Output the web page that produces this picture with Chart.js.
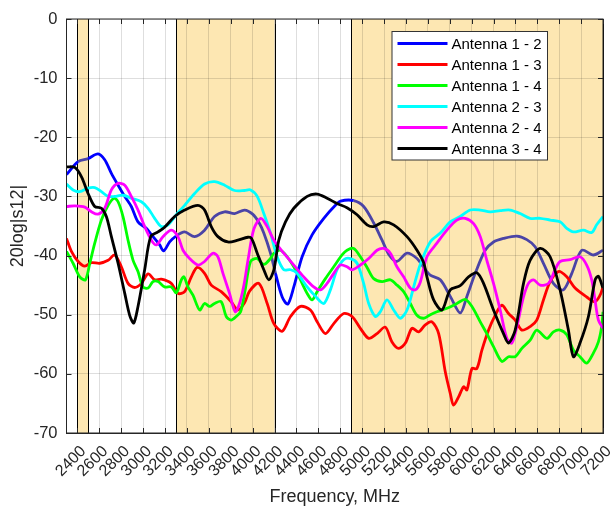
<!DOCTYPE html>
<html>
<head>
<meta charset="utf-8">
<script src="https://cdn.jsdelivr.net/npm/chart.js@4"></script>
<style>
  html, body { margin: 0; padding: 0; background: #fff; }
  #wrap { width: 612px; height: 506px; position: relative; }
</style>
</head>
<body>
<div id="wrap"><canvas id="c" width="612" height="506"></canvas></div>
<script>
// ---------- data ----------
const xTickValues = [2400,2600,2800,3000,3200,3400,3600,3800,4000,4200,4400,4600,4800,5000,5200,5400,5600,5800,6000,6200,6400,6600,6800,7000,7200];
const yTickValues = [0,-10,-20,-30,-40,-50,-60,-70];

const shadeStart = [2400, 3300, 4900];
const shadeEnd   = [2500, 4200, 7200];

const seriesNames = ['Antenna 1 - 2','Antenna 1 - 3','Antenna 1 - 4','Antenna 2 - 3','Antenna 2 - 4','Antenna 3 - 4'];

const f12 = [2300,2406,2497,2588,2649,2710,2771,2832,2892,2953,3029,3090,3151,3187,3242,3300,3379,3470,3561,3652,3744,3835,3926,4000,4060,4102,4163,4209,4270,4321,4376,4452,4543,4650,4756,4802,4923,5014,5106,5182,5250,5318,5410,5501,5562,5622,5714,5805,5896,5957,6033,6124,6200,6291,6413,6504,6580,6656,6747,6838,6915,7006,7112,7200];
const v12 = [-26.3,-24.1,-23.6,-22.8,-23.8,-26.1,-28.1,-30.0,-31.7,-34.3,-35.4,-36.8,-38.2,-39.2,-37.7,-36.7,-36.0,-36.8,-35.7,-33.4,-32.6,-32.9,-32.3,-33.0,-34.5,-36.2,-39.6,-43.0,-47.0,-48.2,-45.3,-40.2,-36.5,-33.7,-31.5,-30.8,-30.7,-31.7,-34.5,-37.4,-40.0,-41.0,-39.6,-40.5,-42.0,-43.3,-44.1,-46.9,-49.7,-46.9,-43.0,-39.1,-37.7,-37.1,-36.7,-37.3,-38.5,-41.3,-44.7,-45.8,-43.0,-39.1,-39.9,-39.1];

const f13 = [2300,2345,2406,2467,2528,2604,2680,2740,2801,2862,2923,2984,3045,3105,3166,3257,3318,3379,3440,3494,3561,3622,3713,3804,3865,3926,3972,4057,4133,4194,4270,4346,4437,4528,4589,4665,4741,4832,4908,4984,5060,5136,5212,5273,5334,5395,5455,5516,5577,5638,5699,5759,5805,5835,5881,5927,5957,6003,6048,6094,6155,6215,6276,6337,6398,6459,6535,6595,6656,6717,6793,6869,6945,7051,7127,7173,7200];
const v13 = [-37.1,-39.3,-41.0,-41.8,-41.2,-41.3,-40.8,-39.9,-41.9,-44.7,-45.4,-44.7,-43.1,-44.1,-44.0,-44.7,-46.4,-46.1,-43.6,-42.0,-43.0,-45.0,-46.1,-47.8,-49.2,-48.0,-46.0,-44.7,-48.1,-51.5,-52.8,-50.3,-48.6,-49.2,-51.2,-53.2,-51.5,-49.8,-50.3,-52.3,-54.0,-53.2,-52.1,-54.6,-55.7,-54.8,-52.3,-52.9,-51.7,-51.2,-53.2,-59.6,-63.3,-65.3,-63.9,-62.2,-62.7,-59.1,-59.1,-56.0,-52.6,-50.1,-48.4,-49.8,-50.9,-52.6,-52.0,-50.9,-47.5,-44.4,-42.7,-43.6,-45.5,-47.0,-47.8,-46.7,-45.3];

const f14 = [2300,2360,2421,2473,2513,2558,2619,2680,2734,2771,2816,2862,2908,2953,2999,3045,3090,3136,3196,3257,3303,3349,3373,3409,3455,3516,3561,3607,3652,3713,3759,3804,3850,3890,3930,3981,4042,4102,4163,4194,4254,4315,4391,4452,4498,4543,4589,4665,4741,4817,4862,4923,4984,5045,5106,5182,5258,5319,5379,5440,5501,5562,5623,5683,5775,5866,5942,6003,6079,6139,6200,6276,6337,6398,6459,6535,6595,6687,6747,6808,6869,6930,6990,7051,7112,7158,7188,7200];
const v14 = [-39.3,-41.3,-43.6,-44.1,-41.3,-37.9,-34.0,-31.5,-30.3,-30.9,-33.4,-37.4,-40.8,-42.7,-45.3,-45.5,-44.4,-44.4,-45.3,-45.3,-46.3,-44.1,-43.6,-45.3,-46.7,-49.2,-48.1,-48.6,-48.1,-47.8,-50.3,-50.9,-50.3,-49.5,-46.0,-41.0,-40.5,-41.5,-40.5,-39.6,-39.1,-40.2,-42.4,-44.7,-46.4,-47.5,-46.1,-43.9,-41.9,-39.9,-39.1,-38.8,-40.2,-42.0,-43.9,-44.4,-44.1,-45.0,-46.1,-48.1,-50.1,-50.6,-50.0,-49.5,-48.9,-48.1,-47.4,-48.6,-51.2,-53.2,-55.4,-57.9,-57.1,-57.1,-55.7,-54.3,-52.6,-54.0,-52.9,-52.6,-53.4,-56.0,-57.1,-58.2,-56.5,-54.6,-52.0,-49.5];

const f23 = [2300,2360,2421,2497,2558,2619,2680,2740,2816,2892,2984,3045,3105,3166,3227,3303,3379,3470,3561,3652,3744,3835,3926,3981,4042,4102,4163,4224,4285,4346,4407,4498,4574,4650,4710,4771,4832,4893,4954,5014,5060,5121,5166,5227,5288,5349,5410,5471,5531,5622,5714,5805,5896,5987,6078,6170,6261,6352,6443,6534,6626,6717,6808,6869,6930,7021,7097,7142,7200];
const v23 = [-27.9,-28.9,-29.2,-28.6,-28.5,-29.2,-30.0,-30.0,-29.8,-30.3,-30.9,-32.0,-33.7,-35.1,-34.8,-33.1,-31.5,-29.5,-27.9,-27.5,-28.1,-29.0,-29.0,-28.9,-30.0,-32.9,-36.2,-40.2,-42.4,-42.4,-43.0,-45.3,-46.9,-48.1,-45.8,-42.4,-40.7,-40.5,-41.3,-44.7,-48.1,-50.3,-49.5,-47.5,-49.2,-50.6,-49.2,-45.3,-41.5,-37.7,-36.2,-34.3,-33.4,-32.3,-32.3,-32.6,-32.4,-32.3,-32.9,-33.7,-33.7,-34.0,-34.3,-35.4,-36.0,-35.7,-36.1,-34.8,-33.4];

const f24 = [2300,2376,2467,2528,2588,2649,2710,2771,2832,2892,2953,3014,3075,3121,3181,3257,3318,3364,3424,3500,3561,3637,3683,3729,3789,3841,3880,3920,3960,4011,4075,4133,4194,4285,4376,4467,4558,4619,4680,4741,4802,4862,4908,4984,5060,5136,5197,5258,5318,5379,5440,5486,5531,5592,5683,5774,5865,5942,6018,6079,6139,6200,6261,6322,6367,6413,6474,6519,6565,6626,6702,6762,6808,6899,6990,7051,7097,7127,7158,7200];
const v24 = [-31.7,-31.6,-31.8,-32.6,-33.0,-32.0,-28.9,-27.8,-28.1,-30.0,-32.3,-35.1,-37.4,-38.2,-36.8,-35.7,-36.8,-39.1,-40.5,-41.6,-41.0,-39.6,-40.2,-43.0,-46.4,-49.5,-48.1,-45.0,-40.5,-35.5,-33.7,-35.1,-37.4,-39.6,-41.6,-43.6,-45.3,-45.8,-44.7,-43.0,-41.6,-41.9,-42.4,-41.6,-40.5,-39.1,-38.8,-39.6,-41.9,-43.6,-45.5,-45.8,-44.5,-40.2,-37.9,-35.7,-34.0,-33.7,-34.6,-36.8,-40.8,-44.7,-49.2,-54.0,-54.8,-52.0,-47.0,-44.7,-44.1,-45.0,-44.7,-42.4,-41.0,-40.7,-40.2,-41.6,-44.1,-47.5,-50.9,-52.3];

const f34 = [2300,2376,2437,2497,2558,2619,2664,2710,2771,2832,2877,2914,2953,3014,3069,3136,3196,3288,3379,3500,3561,3622,3683,3774,3865,3957,3990,4042,4102,4148,4194,4239,4300,4376,4498,4589,4680,4771,4862,4954,5045,5106,5197,5288,5410,5501,5562,5592,5653,5729,5805,5896,5972,6048,6109,6200,6291,6337,6398,6474,6534,6626,6717,6808,6884,6930,6990,7067,7128,7158,7200];
const v34 = [-25.0,-25.1,-26.7,-29.5,-31.7,-32.0,-33.4,-36.8,-41.3,-46.4,-50.1,-51.4,-48.6,-42.4,-36.8,-36.0,-35.2,-33.4,-32.3,-31.5,-32.3,-35.1,-36.8,-37.7,-37.4,-36.9,-37.1,-39.6,-42.4,-44.1,-42.4,-37.4,-34.3,-32.0,-30.0,-29.6,-30.3,-31.2,-31.9,-33.1,-34.8,-35.1,-34.3,-34.8,-36.8,-39.1,-41.2,-43.6,-47.5,-49.2,-45.8,-45.1,-43.6,-42.9,-44.7,-49.2,-53.2,-54.8,-52.6,-44.7,-40.8,-38.8,-40.2,-45.8,-52.6,-57.1,-54.8,-50.3,-44.1,-43.5,-45.5];

const seriesFreqs  = [f12, f13, f14, f23, f24, f34];
const seriesValues = [v12, v13, v14, v23, v24, v34];
// ---------- styles ----------
const seriesColors = ['#0000FF','#FF0000','#00FF00','#00FFFF','#FF00FF','#000000'];
const blueInShade = '#4B44A6';
const shadeColor = 'rgb(253,231,178)';
const FONT = "'Liberation Sans', Arial, Helvetica, sans-serif";
const TXT = '#262626';

function inShade(x) {
  for (let i = 0; i < shadeStart.length; i++) if (x >= shadeStart[i] && x <= shadeEnd[i]) return true;
  return false;
}

const datasets = seriesNames.map((name, i) => {
  const ds = {
    label: name,
    data: seriesFreqs[i].map((f, k) => ({ x: f, y: seriesValues[i][k] })),
    borderColor: seriesColors[i],
    backgroundColor: seriesColors[i],
    borderWidth: 2.8,
    pointRadius: 0,
    tension: 0.3,
    fill: false,
    order: seriesNames.length - i
  };
  if (i === 0) {
    ds.segment = {
      borderColor: ctx => inShade((ctx.p0.parsed.x + ctx.p1.parsed.x) / 2) ? blueInShade : seriesColors[0]
    };
  }
  return ds;
});

const decorPlugin = {
  id: 'decor',
  beforeDraw(chart) {
    const { ctx, chartArea: a, scales: { x } } = chart;
    ctx.save();
    ctx.fillStyle = shadeColor;
    for (let i = 0; i < shadeStart.length; i++) {
      const x0 = x.getPixelForValue(shadeStart[i]);
      const x1 = x.getPixelForValue(shadeEnd[i]);
      ctx.fillRect(x0, a.top, x1 - x0, a.bottom - a.top);
    }
    ctx.restore();
  },
  beforeDatasetsDraw(chart) {
    const { ctx, chartArea: a, scales: { x } } = chart;
    ctx.save();
    ctx.strokeStyle = '#000';
    ctx.lineWidth = 1;
    for (let i = 0; i < shadeStart.length; i++) {
      [shadeStart[i], shadeEnd[i]].forEach(v => {
        const px = Math.round(x.getPixelForValue(v)) + 0.5;
        ctx.beginPath(); ctx.moveTo(px, a.top); ctx.lineTo(px, a.bottom); ctx.stroke();
      });
    }
    ctx.restore();
  },
  afterDraw(chart) {
    const { ctx, chartArea: a, scales: { x, y } } = chart;
    ctx.save();
    // box + inward ticks
    ctx.strokeStyle = TXT;
    ctx.lineWidth = 1;
    ctx.strokeRect(a.left, a.top, a.right - a.left, a.bottom - a.top);
    const tl = 5;
    ctx.beginPath();
    xTickValues.forEach(v => {
      const px = Math.round(x.getPixelForValue(v)) + 0.5;
      ctx.moveTo(px, a.bottom); ctx.lineTo(px, a.bottom - tl);
      ctx.moveTo(px, a.top); ctx.lineTo(px, a.top + tl);
    });
    yTickValues.forEach(v => {
      const py = Math.round(y.getPixelForValue(v)) + 0.5;
      ctx.moveTo(a.left, py); ctx.lineTo(a.left + tl, py);
      ctx.moveTo(a.right, py); ctx.lineTo(a.right - tl, py);
    });
    ctx.stroke();
    // legend
    const lx = a.right - 211, ly = a.top + 12.5, lw = 155.5, lh = 128.5;
    ctx.fillStyle = '#fff';
    ctx.fillRect(lx, ly, lw, lh);
    ctx.strokeStyle = '#333';
    ctx.strokeRect(lx, ly, lw, lh);
    ctx.font = '15px ' + FONT;
    ctx.textBaseline = 'middle';
    ctx.textAlign = 'left';
    chart.data.datasets.forEach((ds, i) => {
      const cy = ly + 12 + i * 21;
      ctx.strokeStyle = seriesColors[i];
      ctx.lineWidth = 3;
      ctx.beginPath(); ctx.moveTo(lx + 5.5, cy); ctx.lineTo(lx + 55.5, cy); ctx.stroke();
      ctx.fillStyle = '#000';
      ctx.fillText(ds.label, lx + 59.5, cy + 1);
    });
    ctx.restore();
  }
};

new Chart(document.getElementById('c'), {
  type: 'line',
  data: { datasets },
  options: {
    responsive: false,
    animation: false,
    devicePixelRatio: 1,
    layout: { padding: { top: 19, right: 9, left: 0, bottom: 0 } },
    plugins: { legend: { display: false }, tooltip: { enabled: false } },
    scales: {
      x: {
        type: 'linear',
        min: 2300,
        max: 7200,
        afterBuildTicks: s => { s.ticks = xTickValues.map(v => ({ value: v })); },
        afterFit: s => { s.height = 73; s.paddingLeft = 0; s.paddingRight = 0; },
        ticks: {
          minRotation: 45, maxRotation: 45, autoSkip: false,
          padding: 9,
          labelOffset: 6,
          color: TXT,
          font: { family: FONT, size: 16 },
          callback: v => String(v)
        },
        grid: { color: 'rgba(0,0,0,0.13)', drawTicks: false },
        border: { display: true, color: TXT },
        title: { display: true, text: 'Frequency, MHz', color: TXT, font: { family: FONT, size: 18, lineHeight: 1.0 }, padding: { top: 0, bottom: 0 } }
      },
      y: {
        type: 'linear',
        min: -70,
        max: 0,
        afterBuildTicks: s => { s.ticks = yTickValues.map(v => ({ value: v })); },
        afterFit: s => { s.width = 66.5; s.paddingTop = 0; s.paddingBottom = 0; },
        ticks: {
          padding: 9,
          color: TXT,
          font: { family: FONT, size: 16.5 },
          callback: v => String(v)
        },
        grid: { color: 'rgba(0,0,0,0.13)', drawTicks: false },
        border: { display: true, color: TXT },
        title: { display: true, text: '20log|s12|', color: TXT, font: { family: FONT, size: 18 }, padding: { top: 7, bottom: 0 } }
      }
    }
  },
  plugins: [decorPlugin]
});
</script>
</body>
</html>
